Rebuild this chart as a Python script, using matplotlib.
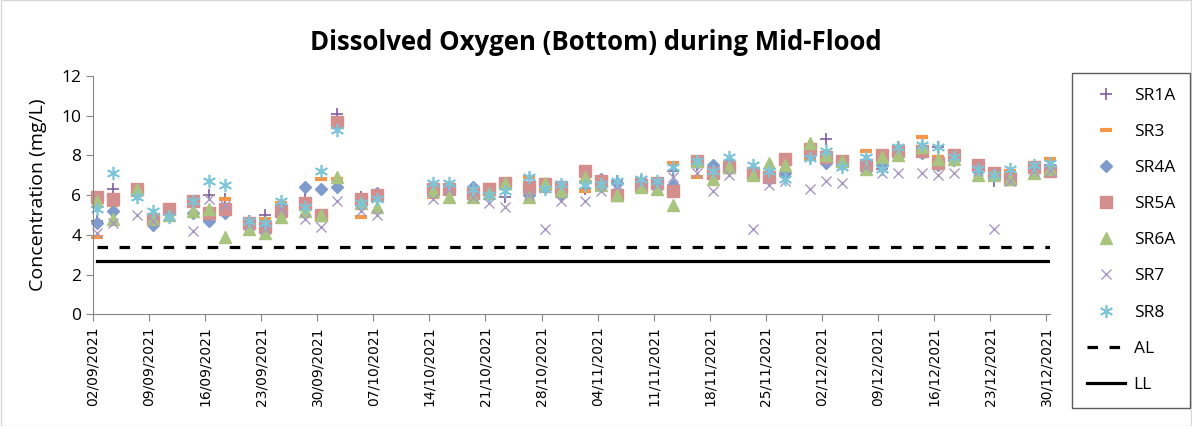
import matplotlib
matplotlib.use("Agg")
import matplotlib.pyplot as plt
import matplotlib.dates as mdates
import pandas as pd

# Sampling dates (dd/mm/yyyy)
dates = ["02/09/2021", "04/09/2021", "07/09/2021", "09/09/2021", "11/09/2021",
         "14/09/2021", "16/09/2021", "18/09/2021", "21/09/2021", "23/09/2021",
         "25/09/2021", "28/09/2021", "30/09/2021", "02/10/2021", "05/10/2021",
         "07/10/2021", "14/10/2021", "16/10/2021", "19/10/2021", "21/10/2021",
         "23/10/2021", "26/10/2021", "28/10/2021", "30/10/2021", "02/11/2021",
         "04/11/2021", "06/11/2021", "09/11/2021", "11/11/2021", "13/11/2021",
         "16/11/2021", "18/11/2021", "20/11/2021", "23/11/2021", "25/11/2021",
         "27/11/2021", "30/11/2021", "02/12/2021", "04/12/2021", "07/12/2021",
         "09/12/2021", "11/12/2021", "14/12/2021", "16/12/2021", "18/12/2021",
         "21/12/2021", "23/12/2021", "25/12/2021", "28/12/2021", "30/12/2021"]

# Dissolved oxygen, mg/L
sr1a = [4.7, 6.3, 6.1, 4.7, 5.0, 5.7, 6.0, 5.8, 4.7, 5.0, 5.5, 5.8, 5.0, 10.1, 5.9, 5.8,
        6.1, 6.4, 6.2, 6.0, 5.9, 6.1, 6.4, 6.3,
        6.3, 6.6, 6.7, 6.7, 6.6, 7.2, 7.5, 7.3, 7.6,
        7.2, 7.0, 7.0, 7.9, 8.8, 7.5, 7.7, 7.3,
        8.4, 8.4, 8.4, 7.7, 7.3, 6.7, 7.0, 7.3, 7.5]
sr3 = [3.9, 5.5, 6.0, 4.9, 5.1, 5.7, 4.8, 5.8, 4.6, 4.8, 5.6, 5.3, 6.8, 6.8, 4.9, 5.8,
       5.9, 6.3, 6.1, 6.5, 6.6, 6.9, 6.2, 6.3,
       6.2, 6.3, 6.6, 6.8, 6.7, 7.6, 6.9, 7.3, 7.5,
       7.2, 7.0, 7.0, 7.8, 8.1, 7.6, 8.2, 8.0,
       8.3, 8.9, 7.9, 7.9, 7.4, 7.0, 7.2, 7.3, 7.8]
sr4a = [4.6, 5.2, 6.1, 4.5, 5.1, 5.1, 4.7, 5.1, 4.6, 4.5, 5.4, 6.4, 6.3, 6.4, 5.6, 6.1,
        6.2, 6.3, 6.4, 6.2, 6.6, 6.0, 6.4, 6.0,
        6.7, 6.8, 6.6, 6.6, 6.5, 6.5, 7.6, 7.5, 7.6,
        7.1, 7.1, 7.1, 8.0, 7.6, 7.6, 7.6, 7.5,
        8.3, 8.1, 7.5, 7.8, 7.2, 7.1, 6.9, 7.3, 7.4]
sr5a = [5.9, 5.8, 6.3, 4.8, 5.3, 5.7, 5.1, 5.3, 4.6, 4.4, 5.2, 5.6, 5.0, 9.7, 5.8, 6.0,
        6.3, 6.3, 6.1, 6.3, 6.6, 6.4, 6.55, 6.4,
        7.2, 6.7, 6.0, 6.5, 6.6, 6.2, 7.7, 7.1, 7.4,
        7.1, 6.9, 7.8, 8.3, 7.9, 7.7, 7.5, 8.0,
        8.2, 8.2, 7.6, 8.0, 7.5, 7.1, 6.8, 7.4, 7.2]
sr6a = [5.7, 4.8, 6.3, 4.8, 5.0, 5.2, 5.3, 3.9, 4.3, 4.1, 4.9, 5.2, 5.0, 6.9, 5.6, 5.4,
        6.2, 5.9, 5.9, 6.1, 6.6, 5.9, 6.6, 6.2,
        6.9, 6.5, 6.0, 6.4, 6.3, 5.5, 7.7, 6.8, 7.4,
        7.0, 7.6, 7.5, 8.6, 8.0, 7.7, 7.3, 7.9,
        8.0, 8.4, 7.8, 7.8, 7.0, 7.0, 6.8, 7.1, 7.3]
sr7 = [4.1, 4.6, 5.0, 4.7, 5.0, 4.2, 5.8, 5.5, 4.5, 4.3, 5.3, 4.8, 4.4, 5.7, 5.2, 5.0,
       5.8, 6.3, 5.9, 5.6, 5.4, 6.0, 4.3, 5.7,
       5.7, 6.2, 6.5, 6.6, 6.5, 6.9, 7.1, 6.2, 7.0,
       4.3, 6.5, 6.7, 6.3, 6.7, 6.6, 7.4, 7.1,
       7.1, 7.1, 7.0, 7.1, 7.2, 4.3, 6.7, 7.2, 7.2]
sr8 = [5.3, 7.1, 5.9, 5.2, 4.9, 5.7, 6.7, 6.5, 4.7, 4.6, 5.7, 5.4, 7.2, 9.3, 5.6, 5.8,
       6.6, 6.6, 6.3, 6.0, 6.2, 6.9, 6.3, 6.55,
       6.5, 6.55, 6.7, 6.8, 6.7, 7.4, 7.7, 7.2, 7.9,
       7.5, 7.2, 6.8, 7.85, 8.2, 7.4, 7.9, 7.3,
       8.4, 8.5, 8.4, 7.9, 7.3, 7.0, 7.3, 7.5, 7.6]

AL = 3.4  # action level
LL = 2.7  # limit level

plt.rcParams['font.family'] = ['Open Sans', 'DejaVu Sans']

x = pd.to_datetime(dates, format="%d/%m/%Y") + pd.Timedelta(hours=11)

fig = plt.figure(figsize=(11.92, 4.26), dpi=100)
ax = fig.add_axes([0.078, 0.262, 0.803, 0.560])

ax.plot(x, sr1a, ls='none', marker='+', ms=8.5, mew=1.2, color='#7E5FA0', label='SR1A', clip_on=False)
ax.plot(x, sr3, ls='none', marker='_', ms=8.5, mew=3, color='#F79646', label='SR3', clip_on=False)
ax.plot(x, sr4a, ls='none', marker='D', ms=6.3, color='#7F9BCB', label='SR4A', clip_on=False)
ax.plot(x, sr5a, ls='none', marker='s', ms=8, color='#D38F8D', label='SR5A', clip_on=False)
ax.plot(x, sr6a, ls='none', marker='^', ms=8.5, color='#A9C47F', label='SR6A', clip_on=False)
ax.plot(x, sr7, ls='none', marker='x', ms=7.5, mew=1, color='#A897C1', label='SR7', clip_on=False)
ax.plot(x, sr8, ls='none', marker=(6, 2, 0), ms=9.5, mew=1.2, color='#7CC5D9', label='SR8', clip_on=False)

ends = [x[0], x[-1]]
ax.plot(ends, [AL, AL], color='black', lw=2.3, dashes=(3.3, 3.6), label='AL')
ax.plot(ends, [LL, LL], color='black', lw=2.3, label='LL')

start = pd.Timestamp('2021-09-02')
ax.set_xlim(start, pd.Timestamp('2021-12-30') + pd.Timedelta(hours=12))
ax.set_ylim(0, 12)
ax.set_yticks(range(0, 13, 2))
ax.set_xticks(pd.date_range(start, '2021-12-30', freq='7D'))
ax.xaxis.set_major_formatter(mdates.DateFormatter('%d/%m/%Y'))
for lab in ax.get_xticklabels():
    lab.set_rotation(90)
    lab.set_fontfamily('DejaVu Sans')
    lab.set_fontsize(10)
ax.tick_params(axis='y', labelsize=12.5, length=5, color='#868686')
ax.tick_params(axis='x', length=5, color='#868686')

for side in ['top', 'right']:
    ax.spines[side].set_visible(False)
for side in ['left', 'bottom']:
    ax.spines[side].set_color('#868686')

ax.set_ylabel('Concentration (mg/L)', fontsize=14)
ax.yaxis.set_label_coords(-0.048, 0.5)

fig.text(0.5, 0.90, 'Dissolved Oxygen (Bottom) during Mid-Flood', ha='center', va='center',
         fontsize=18.5, fontweight='bold')

leg = fig.legend(loc='upper left', bbox_to_anchor=(1072 / 1192, 1 - 73 / 426),
                 frameon=True, fancybox=False, fontsize=12.5, labelspacing=1.15,
                 handlelength=2.2, handletextpad=0.5, borderpad=0.85, borderaxespad=0)
leg.get_frame().set_edgecolor('#333333')
leg.get_frame().set_linewidth(1.0)

fig.patches.append(plt.Rectangle((0.0005, 0.001), 0.999, 0.998, transform=fig.transFigure,
                                 fill=False, edgecolor='#d9d9d9', lw=1))

fig.savefig('out.png', dpi=100)
